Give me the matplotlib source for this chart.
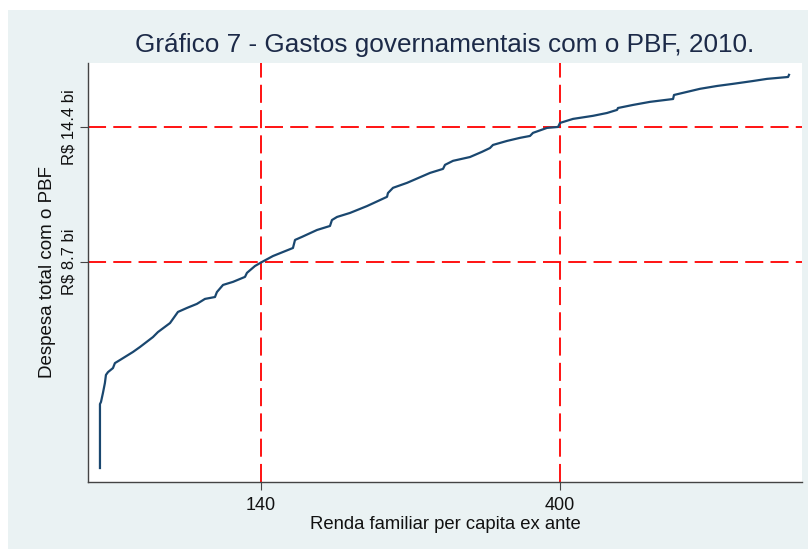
import matplotlib
matplotlib.use("Agg")
import matplotlib.pyplot as plt
from matplotlib.patches import Rectangle

plt.rcParams['font.family'] = ['Liberation Sans', 'DejaVu Sans']

title = "Gráfico 7 - Gastos governamentais com o PBF, 2010."
xlabel = "Renda familiar per capita ex ante"
ylabel = "Despesa total com o PBF"
xticks = [140, 400]
xticklabels = ["140", "400"]
yticks = [8.7, 14.4]
yticklabels = ["R$ 8.7 bi", "R$ 14.4 bi"]

renda = [0.0, 0.0, 0.9, 2.6, 4.3, 5.2, 7.0, 11.3, 13.0, 17.4, 28.7, 34.8, 46.1, 50.4,
         60.9, 67.8, 75.7, 84.3, 91.3, 100.0, 101.7, 107.0, 115.7, 126.1, 127.8, 134.8,
         140.9, 150.4, 167.8, 169.6, 175.7, 188.7, 200.0, 201.7, 206.1, 217.4, 232.2,
         249.6, 250.4, 254.8, 267.0, 287.0, 298.3, 300.0, 307.0, 321.7, 332.2, 339.1,
         341.7, 353.9, 365.2, 373.9, 376.5, 388.7, 398.3, 400.0, 411.3, 428.7, 440.9,
         449.6, 450.4, 463.5, 478.3, 498.3, 499.1, 510.4, 521.7, 536.5, 550.4, 567.8,
         580.0, 598.3, 599.1]
despesa = [0.0, 2.70, 2.79, 3.17, 3.59, 3.93, 4.05, 4.22, 4.43, 4.56, 4.90, 5.11, 5.53, 5.74,
           6.12, 6.59, 6.76, 6.93, 7.14, 7.22, 7.43, 7.73, 7.86, 8.07, 8.24, 8.53,
           8.70, 8.95, 9.29, 9.63, 9.76, 10.05, 10.22, 10.47, 10.60, 10.77, 11.06,
           11.45, 11.61, 11.83, 12.04, 12.46, 12.63, 12.80, 12.97, 13.13, 13.35, 13.51,
           13.64, 13.81, 13.94, 14.02, 14.15, 14.36, 14.40, 14.57, 14.74, 14.87, 14.99,
           15.12, 15.20, 15.33, 15.46, 15.58, 15.75, 15.88, 16.01, 16.13, 16.22, 16.34,
           16.43, 16.51, 16.60]

W, H = 808, 549
BG = '#eaf2f3'
fig = plt.figure(figsize=(W/100, H/100), dpi=100, facecolor=BG)
# white margins at the top and on the left
fig.patches.append(Rectangle((0, 1 - 10/H), 1, 10/H, transform=fig.transFigure,
                             facecolor='white', edgecolor='none', zorder=-5))
fig.patches.append(Rectangle((0, 0), 8/W, 1, transform=fig.transFigure,
                             facecolor='white', edgecolor='none', zorder=-5))

ax = fig.add_axes([88/W, (H-482)/H, (802-88)/W, (482-63)/H])
ax.set_facecolor('white')

red = '#ff0000'
dash = (0, (10, 4))
for yv in yticks:
    ax.axhline(yv, color=red, lw=1.3, ls=dash, zorder=1)
for xv in xticks:
    ax.axvline(xv, color=red, lw=1.3, ls=dash, zorder=1)

ax.plot(renda, despesa, color='#1a476f', lw=1.6, zorder=2)

ax.set_xlim(-10.4, 610.4)
ax.set_ylim(-0.59, 17.10)

for s in ['top', 'right']:
    ax.spines[s].set_visible(False)
for s in ['left', 'bottom']:
    ax.spines[s].set_color('#444444')
    ax.spines[s].set_linewidth(1.0)

ax.set_xticks(xticks)
ax.set_xticklabels(xticklabels, fontsize=13, color='#111111')
ax.set_yticks(yticks)
ax.set_yticklabels(yticklabels, fontsize=12, color='#111111', rotation=90, va='center')
ax.tick_params(axis='x', length=6, width=0.8, color='#444444', pad=5)
ax.tick_params(axis='y', length=6, width=0.8, color='#444444', pad=2)

ax.set_xlabel(xlabel, fontsize=13.3, color='#111111', labelpad=1)
ax.set_ylabel(ylabel, fontsize=13.5, color='#111111', labelpad=4)

fig.text(445/W, 1 - 45/H, title, fontsize=18.8, color='#1c2a48', ha='center', va='center')

fig.savefig('out.png', dpi=100, facecolor=fig.get_facecolor())
